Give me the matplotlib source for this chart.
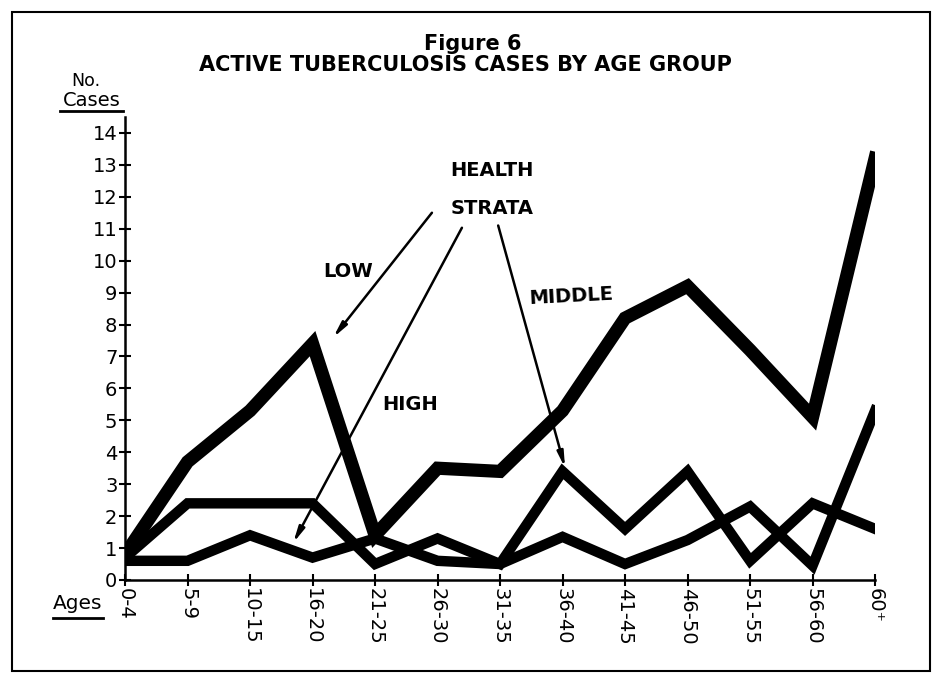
import matplotlib
matplotlib.use("Agg")
import matplotlib.pyplot as plt
from matplotlib.patches import Rectangle
from matplotlib.lines import Line2D

# age groups and cases per health stratum
ages = ["0-4", "5-9", "10-15", "16-20", "21-25", "26-30", "31-35",
        "36-40", "41-45", "46-50", "51-55", "56-60", "60\u207a"]
low = [0.8, 3.7, 5.3, 7.4, 1.4, 3.5, 3.4, 5.3, 8.2, 9.2, 7.2, 5.1, 13.2]
middle = [0.7, 2.4, 2.4, 2.4, 0.5, 1.3, 0.5, 3.4, 1.6, 3.4, 0.6, 2.4, 1.6]
high = [0.6, 0.6, 1.4, 0.7, 1.3, 0.6, 0.5, 1.35, 0.5, 1.25, 2.3, 0.45, 5.3]
yticks = list(range(0, 15))

plt.rcParams['font.family'] = ['DejaVu Sans']

fig = plt.figure(figsize=(9.38, 6.74), dpi=100)
ax = fig.add_axes([0.1333, 0.1395, 0.7996, 0.687])

x = list(range(len(ages)))
ax.plot(x, low, color='black', lw=9.5, solid_joinstyle='miter')
ax.plot(x, middle, color='black', lw=7.5, solid_joinstyle='miter')
ax.plot(x, high, color='black', lw=7.5, solid_joinstyle='miter')

ax.set_xlim(0, 12)
ax.set_ylim(0, 14.5)
ax.set_xticks(x)
ax.set_xticklabels(ages, rotation=-90, fontsize=14)
ax.set_yticks(yticks)
ax.set_yticklabels([str(v) for v in yticks], fontsize=14)
ax.tick_params(direction='inout', length=9, width=1.5, pad=1, color='black')
for s in ['top', 'right']:
    ax.spines[s].set_visible(False)
ax.spines['left'].set_linewidth(1.8)
ax.spines['bottom'].set_linewidth(1.8)

# titles
fig.text(0.504, 0.934, "Figure 6", ha='center', va='center', fontsize=15, fontweight='bold')
fig.text(0.496, 0.903, "ACTIVE TUBERCULOSIS CASES BY AGE GROUP", ha='center', va='center',
         fontsize=15, fontweight='bold')

# axis captions with underline
fig.text(0.091, 0.880, "No.", ha='center', va='center', fontsize=12.5)
fig.text(0.098, 0.851, "Cases", ha='center', va='center', fontsize=14)
fig.add_artist(Line2D([0.064, 0.131], [0.836, 0.836], color='black', lw=2))
fig.text(0.083, 0.104, "Ages", ha='center', va='center', fontsize=14.5)
fig.add_artist(Line2D([0.056, 0.110], [0.083, 0.083], color='black', lw=2))

# labels and arrows for health strata
tkw = dict(ha='center', va='center', fontsize=14, fontweight='bold')
ax.text(5.87, 12.82, "HEALTH", **tkw)
ax.text(5.87, 11.63, "STRATA", **tkw)
ax.text(3.57, 9.66, "LOW", **tkw)
ax.text(4.56, 5.49, "HIGH", **tkw)
ax.text(7.14, 8.87, "MIDDLE", rotation=3, **tkw)

akw = dict(arrowstyle='-|>,head_length=0.9,head_width=0.18', color='black', lw=1.8,
           shrinkA=0, shrinkB=0)
ax.annotate("", xy=(3.33, 7.59), xytext=(4.91, 11.5), arrowprops=akw)
ax.annotate("", xy=(2.69, 1.16), xytext=(5.39, 11.03), arrowprops=akw)
ax.annotate("", xy=(7.04, 3.51), xytext=(5.97, 11.1), arrowprops=akw)

# frame around the whole figure
fig.add_artist(Rectangle((0.013, 0.005), 0.978, 0.977, transform=fig.transFigure,
                         fill=False, lw=1.5, color='black'))

fig.savefig("out.png", dpi=100, facecolor='white')
